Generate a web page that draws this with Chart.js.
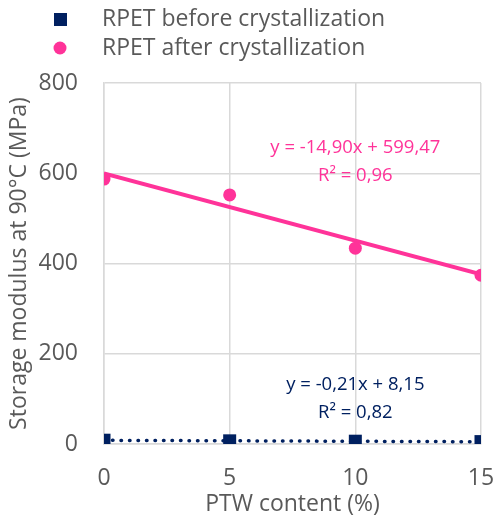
<html>
<head>
<script src="https://cdn.jsdelivr.net/npm/chart.js"></script>
<style>
  body { margin: 0; background: #fff; }
  #wrap { width: 495px; height: 520px; }
</style>
</head>
<body>
<div id="wrap"><canvas id="myChart" width="495" height="520"></canvas></div>
<script>
// PTW content (%)
var ptw = [0, 5, 10, 15];
// storage modulus at 90°C (MPa)
var before = [8.4, 7.0, 6.2, 5.3];
var after = [587, 552, 434, 374];
// trend line ends (x = 0 and x = 15)
var trendX = [0, 15];
var trendBefore = [8.15, 5.0];
var trendAfter = [599.5, 376.0];
var seriesNames = ["RPET before crystallization", "RPET after crystallization"];
var eqBefore = ["y = -0,21x + 8,15", "R² = 0,82"];
var eqAfter = ["y = -14,90x + 599,47", "R² = 0,96"];
var yTicks = [0, 200, 400, 600, 800];
var xTicks = [0, 5, 10, 15];

var navy = "#002060";
var pink = "#ff3399";
var grey = "#595959";
var font = "'Open Sans', sans-serif";

function pts(xs, ys) {
  return xs.map(function (x, i) { return { x: x, y: ys[i] }; });
}

// legend + equation labels
var extras = {
  id: "extras",
  afterDraw: function (chart) {
    var ctx = chart.ctx;
    var xs = chart.scales.x, ys = chart.scales.y;
    ctx.save();
    // legend
    ctx.font = "23px " + font;
    ctx.textBaseline = "middle";
    ctx.textAlign = "left";
    ctx.fillStyle = navy;
    ctx.fillRect(54, 13, 13, 13);
    ctx.fillStyle = pink;
    ctx.beginPath();
    ctx.arc(60, 48, 6.5, 0, Math.PI * 2);
    ctx.fill();
    ctx.fillStyle = grey;
    ctx.fillText(seriesNames[0], 102, 19);
    ctx.fillText(seriesNames[1], 102, 48);
    // equations
    ctx.font = "18.5px " + font;
    ctx.textAlign = "center";
    ctx.fillStyle = pink;
    ctx.fillText(eqAfter[0], xs.getPixelForValue(10), ys.getPixelForValue(656));
    ctx.fillText(eqAfter[1], xs.getPixelForValue(10), ys.getPixelForValue(594));
    ctx.fillStyle = navy;
    ctx.fillText(eqBefore[0], xs.getPixelForValue(10), ys.getPixelForValue(131));
    ctx.fillText(eqBefore[1], xs.getPixelForValue(10), ys.getPixelForValue(69));
    ctx.restore();
  }
};

var chart = new Chart(document.getElementById("myChart"), {
  type: "scatter",
  data: {
    datasets: [
      {
        label: seriesNames[0],
        data: pts(ptw, before),
        backgroundColor: navy,
        borderColor: navy,
        pointStyle: "rect",
        pointRadius: 9.2,
        pointBorderWidth: 0,
        order: 0
      },
      {
        label: seriesNames[1],
        data: pts(ptw, after),
        backgroundColor: pink,
        borderColor: pink,
        pointStyle: "circle",
        pointRadius: 6.5,
        pointBorderWidth: 0,
        order: 1
      },
      {
        data: pts(trendX, trendBefore),
        showLine: true,
        pointRadius: 0,
        borderColor: navy,
        borderWidth: 3.5,
        borderDash: [0.5, 8],
        borderCapStyle: "round",
        order: 2
      },
      {
        data: pts(trendX, trendAfter),
        showLine: true,
        pointRadius: 0,
        borderColor: pink,
        borderWidth: 4,
        order: 3
      }
    ]
  },
  options: {
    responsive: false,
    animation: false,
    layout: { autoPadding: false, padding: { top: 83, left: 4, right: 14, bottom: 0 } },
    plugins: {
      legend: { display: false },
      tooltip: { enabled: false }
    },
    scales: {
      x: {
        type: "linear",
        min: 0,
        max: 15,
        afterBuildTicks: function (s) { s.ticks = xTicks.map(function (v) { return { value: v }; }); },
        afterFit: function (s) { s.height = 76; s.paddingLeft = 0; s.paddingRight = 0; },
        grid: { color: "#d9d9d9", lineWidth: 1.5, drawTicks: false },
        border: { color: "#d9d9d9", width: 1.5 },
        ticks: { color: grey, font: { family: font, size: 23 }, padding: 21 },
        title: { display: true, text: "PTW content (%)", color: grey, font: { family: font, size: 23 }, padding: { top: 0, bottom: 2 } }
      },
      y: {
        min: 0,
        max: 800,
        afterBuildTicks: function (s) { s.ticks = yTicks.map(function (v) { return { value: v }; }); },
        afterFit: function (s) { s.width = 100; s.paddingTop = 0; s.paddingBottom = 0; },
        grid: { color: "#d9d9d9", lineWidth: 1.5, drawTicks: false },
        border: { color: "#d9d9d9", width: 1.5 },
        ticks: { color: grey, font: { family: font, size: 23 }, padding: 26 },
        title: { display: true, text: "Storage modulus at 90°C (MPa)", color: grey, font: { family: font, size: 23 }, padding: { top: 2, bottom: 2 } }
      }
    }
  },
  plugins: [extras]
});
</script>
</body>
</html>
